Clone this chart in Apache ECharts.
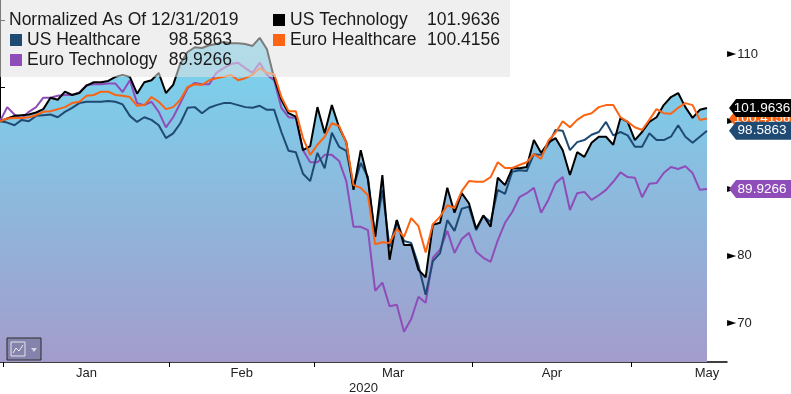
<!DOCTYPE html>
<html>
<head>
<meta charset="utf-8">
<script src="https://cdn.jsdelivr.net/npm/echarts@6/dist/echarts.min.js"></script>
<style>
html,body{margin:0;padding:0;background:#fff;}
#chart{width:791px;height:394px;}
</style>
</head>
<body>
<div id="chart"></div>
<script>
// ---- data ----
const dates = [
 '2019-12-31',
 '2020-01-01','2020-01-02','2020-01-03','2020-01-06','2020-01-07','2020-01-08','2020-01-09','2020-01-10',
 '2020-01-13','2020-01-14','2020-01-15','2020-01-16','2020-01-17','2020-01-20','2020-01-21','2020-01-22',
 '2020-01-23','2020-01-24','2020-01-27','2020-01-28','2020-01-29','2020-01-30','2020-01-31',
 '2020-02-03','2020-02-04','2020-02-05','2020-02-06','2020-02-07','2020-02-10','2020-02-11','2020-02-12',
 '2020-02-13','2020-02-14','2020-02-17','2020-02-18','2020-02-19','2020-02-20','2020-02-21','2020-02-24',
 '2020-02-25','2020-02-26','2020-02-27','2020-02-28',
 '2020-03-02','2020-03-03','2020-03-04','2020-03-05','2020-03-06','2020-03-09','2020-03-10','2020-03-11',
 '2020-03-12','2020-03-13','2020-03-16','2020-03-17','2020-03-18','2020-03-19','2020-03-20','2020-03-23',
 '2020-03-24','2020-03-25','2020-03-26','2020-03-27','2020-03-30','2020-03-31',
 '2020-04-01','2020-04-02','2020-04-03','2020-04-06','2020-04-07','2020-04-08','2020-04-09','2020-04-10',
 '2020-04-13','2020-04-14','2020-04-15','2020-04-16','2020-04-17','2020-04-20','2020-04-21','2020-04-22',
 '2020-04-23','2020-04-24','2020-04-27','2020-04-28','2020-04-29','2020-04-30',
 '2020-05-01','2020-05-04','2020-05-05','2020-05-06','2020-05-07','2020-05-08','2020-05-11','2020-05-12',
 '2020-05-13','2020-05-14','2020-05-15'
];

const usTechnology = [
 100.0,100.4,100.8,100.9,101.0,101.3,101.8,103.5,103.2,104.4,
 103.9,104.2,105.3,105.8,105.8,106.0,106.6,106.9,106.6,104.1,
 105.8,106.1,107.2,104.2,105.4,108.6,110.3,111.0,110.9,111.3,
 111.5,111.8,111.6,111.6,111.5,111.2,112.4,110.7,106.4,103.2,
 101.2,100.7,95.7,96.3,102.1,98.2,102.4,99.1,96.9,89.8,
 95.7,91.3,82.8,92.0,79.4,85.3,81.6,81.6,77.9,76.8,
 84.6,84.9,90.1,86.4,89.3,87.8,84.0,86.0,84.3,91.6,
 90.5,93.0,93.0,93.2,97.2,95.3,96.8,97.5,95.7,92.0,
 95.4,94.7,96.8,97.7,97.7,96.5,100.5,99.9,97.2,98.4,
 99.9,100.6,102.4,103.6,104.2,102.1,100.5,101.7,101.9636
];
const usHealthcare = [
 100.0,99.8,99.4,100.2,100.0,100.8,100.9,101.0,100.6,101.4,
 102.0,102.7,102.9,102.9,102.9,103.0,102.9,102.5,100.8,99.9,
 100.6,100.2,99.4,97.5,98.2,99.7,102.0,102.1,101.2,102.0,
 102.4,102.7,102.7,102.4,102.1,102.0,102.3,101.7,101.7,98.4,
 95.6,95.4,92.2,91.1,95.3,93.0,98.3,96.2,95.6,90.2,
 93.8,91.7,82.8,89.8,81.3,85.3,82.2,81.9,78.6,74.2,
 79.2,80.4,85.3,83.7,87.0,87.3,83.8,85.9,85.0,89.8,
 89.2,92.5,92.7,92.6,95.1,95.0,96.5,98.7,98.6,95.7,
 96.9,97.2,98.0,98.4,99.9,97.9,98.4,97.9,96.2,96.2,
 98.2,97.2,97.2,97.7,99.4,97.7,96.8,97.7,98.5863
];
const euroHealthcare = [
 100.0,100.4,100.5,100.5,100.6,100.9,101.4,101.5,101.8,102.1,
 102.7,102.9,103.8,103.9,104.4,104.4,103.9,103.8,103.6,102.3,
 102.4,103.6,102.9,101.8,102.1,103.2,105.1,105.5,105.4,106.1,
 106.4,106.6,106.9,106.1,106.4,106.9,107.9,107.2,107.0,103.6,
 101.5,101.5,97.5,95.0,96.5,97.7,99.7,99.3,96.8,90.5,
 90.1,89.0,81.7,82.0,81.9,84.0,82.8,85.6,84.4,80.5,
 84.7,85.8,87.5,87.1,89.6,91.1,91.0,91.0,91.7,93.9,
 93.05,93.05,93.5,93.9,95.1,94.4,97.1,98.3,100.0,99.1,
 100.2,100.9,101.2,102.1,102.4,102.4,100.6,99.9,99.1,98.7,
 100.2,101.8,101.2,101.1,102.0,102.7,102.4,100.2,100.4156
];
const euroTechnology = [
 100.0,102.1,101.0,100.4,101.4,102.1,103.5,103.5,103.8,103.9,
 103.9,104.3,105.4,105.5,105.5,105.6,105.6,104.35,106.1,102.7,
 102.4,102.9,101.4,99.1,100.6,102.7,104.9,105.7,105.5,105.5,
 107.2,107.9,108.5,108.7,107.9,107.2,108.7,106.9,106.1,102.0,
 100.6,100.5,95.7,93.9,93.9,95.0,95.0,94.1,91.1,84.3,
 84.3,83.8,74.8,76.0,72.5,72.7,68.7,70.6,73.9,73.0,
 79.7,80.9,83.7,80.4,82.5,83.4,80.6,79.7,79.1,82.3,
 84.9,86.5,88.7,89.3,90.1,86.4,88.3,90.8,91.7,86.8,
 89.3,89.5,88.3,89.0,89.8,91.0,92.4,91.7,91.6,88.7,
 90.7,90.8,92.3,93.2,92.9,93.3,92.3,89.8,89.9266
];

const monthNames = ['Jan','Feb','Mar','Apr','May'];
const yLabelValues = [70, 80, 90, 100, 110];
const yMinorTicks = [65, 75, 85, 95, 105, 115];
const titleText = 'Normalized As Of 12/31/2019';
const yearLabel = '2020';

// ---- derived axis helpers ----
function weekdaysInMonth(y, m) { // m: 1..12
  let n = 0; const d = new Date(Date.UTC(y, m - 1, 1));
  while (d.getUTCMonth() === m - 1) { const w = d.getUTCDay(); if (w !== 0 && w !== 6) n++; d.setUTCDate(d.getUTCDate() + 1); }
  return n;
}
const monthTicks = [], monthLabelPos = [], monthLabelName = {};
monthNames.forEach((nm, k) => {
  const m = k + 1;
  const first = dates.findIndex(d => d.startsWith('2020-' + String(m).padStart(2, '0')));
  const start = first - 0.5;
  monthTicks.push(start);
  const pos = start + weekdaysInMonth(2020, m) / 2;
  monthLabelPos.push(pos);
  monthLabelName[pos.toFixed(3)] = nm;
});

const toXY = arr => arr.map((v, i) => [i, v]);
const last = arr => arr[arr.length - 1];
const fmt = v => v.toFixed(4);
const lastIdx = dates.length - 1;

const C = {
  tech: '#000000',
  health: '#1f4a73',
  euroH: '#fb6412',
  euroT: '#8e4db8'
};
const FONT = 'Liberation Sans';

function tag(arr, color, z) {
  return {
    silent: true,
    z: z,
    symbol: 'path://M0,9L7,0L64,0L64,18L7,18Z',
    symbolSize: [64, 18],
    symbolKeepAspect: false,
    symbolOffset: [54, 0],
    itemStyle: { color: color },
    label: {
      show: true, position: 'inside', offset: [1, 0],
      color: '#fff', fontSize: 13.5, fontFamily: FONT,
      formatter: p => fmt(p.value)
    },
    data: [{ coord: [lastIdx, last(arr)], value: last(arr) }]
  };
}

const lineSeries = (name, arr, color, z, tagZ) => ({
  name: name,
  type: 'line',
  data: toXY(arr),
  showSymbol: false,
  symbol: 'none',
  z: z,
  lineStyle: { color: color, width: 2 },
  itemStyle: { color: color },
  emphasis: { disabled: true },
  silent: true,
  markPoint: tag(arr, color, tagZ)
});

const legendRich = (nW, vW) => ({
  n: { width: nW, fontSize: 17.5, fontFamily: FONT, color: '#1a1a1a' },
  v: { width: vW, align: 'right', fontSize: 17.5, fontFamily: FONT, color: '#1a1a1a' }
});
const valueOf = { 'US Technology': last(usTechnology), 'US Healthcare': last(usHealthcare),
  'Euro Healthcare': last(euroHealthcare), 'Euro Technology': last(euroTechnology) };

const chart = echarts.init(document.getElementById('chart'), null, { renderer: 'canvas' });
const option = {
  animation: false,
  backgroundColor: '#ffffff',
  textStyle: { fontFamily: FONT },
  title: {
    text: titleText, left: 9, top: 10, padding: 0, z: 6,
    textStyle: { fontSize: 17.5, fontWeight: 'normal', color: '#1a1a1a', fontFamily: FONT, lineHeight: 20 }
  },
  legend: [
    {
      data: ['US Technology', 'Euro Healthcare'],
      orient: 'vertical', left: 273, top: 10, padding: 0, itemGap: 0,
      icon: 'rect', itemWidth: 12, itemHeight: 12, selectedMode: false, z: 6,
      formatter: n => '{n|' + n + '}{v|' + fmt(valueOf[n]) + '}',
      textStyle: { lineHeight: 20, rich: legendRich(129, 81) }
    },
    {
      data: ['US Healthcare', 'Euro Technology'],
      orient: 'vertical', left: 10, top: 30, padding: 0, itemGap: 0,
      icon: 'rect', itemWidth: 12, itemHeight: 12, selectedMode: false, z: 6,
      formatter: n => '{n|' + n + '}{v|' + fmt(valueOf[n]) + '}',
      textStyle: { lineHeight: 20, rich: legendRich(141, 64) }
    }
  ],
  grid: { left: 0, right: 64, top: 0, bottom: 32, containLabel: false, outerBoundsMode: 'none' },
  xAxis: {
    type: 'value', min: 0, max: 100.77,
    splitLine: { show: false },
    axisLine: { show: true, lineStyle: { color: '#000', width: 1.5 } },
    axisTick: { show: true, customValues: monthTicks, length: 5, lineStyle: { color: '#000' } },
    axisLabel: {
      customValues: monthLabelPos, margin: 5, color: '#222', fontSize: 13, fontFamily: FONT,
      formatter: v => monthLabelName[Number(v).toFixed(3)] || ''
    },
    name: yearLabel, nameLocation: 'middle', nameGap: 26, nameMoveOverlap: false,
    nameTextStyle: { color: '#222', fontSize: 13, fontFamily: FONT, verticalAlign: 'middle' }
  },
  yAxis: {
    type: 'value', position: 'right', min: 64.2, max: 118.03,
    splitLine: { show: false },
    axisLine: { show: true, lineStyle: { color: '#000', width: 1 } },
    axisTick: { show: true, customValues: yMinorTicks, length: 5, lineStyle: { color: '#000' } },
    axisLabel: {
      customValues: yLabelValues, margin: 0,
      formatter: v => '{t|\u25BA}{n|' + v + '}',
      rich: {
        t: { fontSize: 12, color: '#000', fontFamily: 'DejaVu Sans', padding: [0, 1, 0, 0] },
        n: { fontSize: 13, color: '#222', fontFamily: FONT }
      }
    }
  },
  series: [
    {
      name: 'US Technology fill', type: 'line', data: toXY(usTechnology),
      showSymbol: false, symbol: 'none', z: 1, silent: true,
      lineStyle: { width: 0, opacity: 0 },
      areaStyle: {
        opacity: 1,
        color: new echarts.graphic.LinearGradient(0, 0, 0, 362, [
          { offset: 0, color: '#72dcf3' },
          { offset: 1, color: '#a39ccb' }
        ], true)
      },
      emphasis: { disabled: true }
    },
    lineSeries('Euro Technology', euroTechnology, C.euroT, 2, 5),
    lineSeries('US Healthcare', usHealthcare, C.health, 2, 6),
    lineSeries('US Technology', usTechnology, C.tech, 2, 6),
    lineSeries('Euro Healthcare', euroHealthcare, C.euroH, 2, 4)
  ],
  graphic: [
    { type: 'rect', z: 3, silent: true, shape: { x: 0, y: 0, width: 510, height: 77 },
      style: { fill: 'rgba(226,226,226,0.55)' } },
    { type: 'rect', z: 10, silent: true, shape: { x: 7, y: 338, width: 34, height: 22 },
      style: { fill: 'rgba(80,80,110,0.35)', stroke: '#2a2a2a', lineWidth: 1 } },
    { type: 'rect', z: 11, silent: true, shape: { x: 11, y: 342, width: 14, height: 14 },
      style: { fill: 'none', stroke: '#e4e4ee', lineWidth: 1 } },
    { type: 'polyline', z: 11, silent: true, shape: { points: [[13, 353], [16, 348], [19, 351], [23, 345]] },
      style: { stroke: '#ececf4', lineWidth: 1, fill: 'none' } },
    { type: 'polygon', z: 11, silent: true, shape: { points: [[31, 348], [37, 348], [34, 352]] },
      style: { fill: '#d4d4e4' } }
  ]
};
chart.setOption(option);
</script>
</body>
</html>
